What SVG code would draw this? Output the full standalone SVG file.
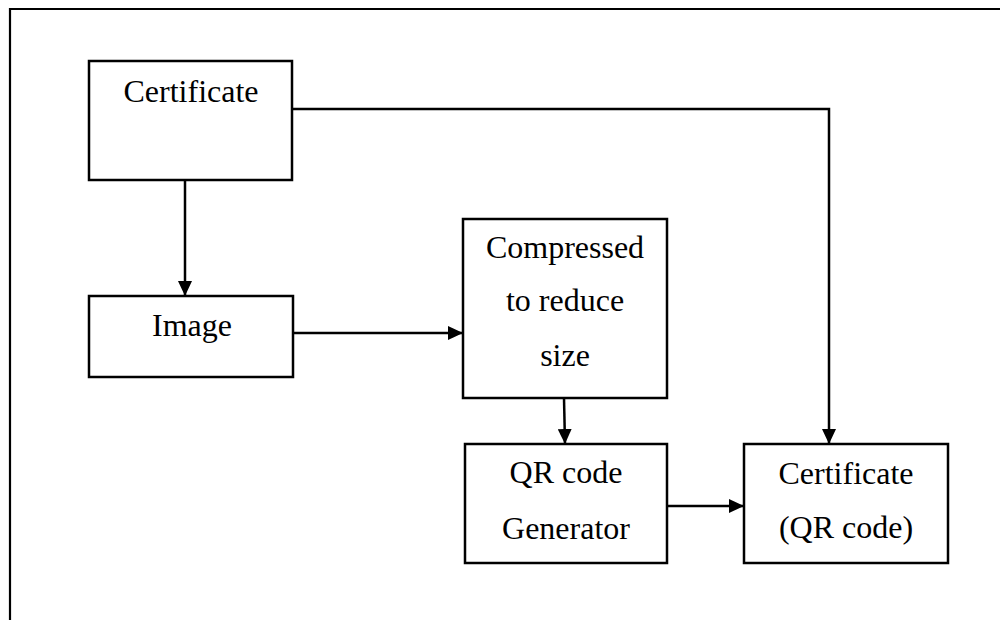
<svg xmlns="http://www.w3.org/2000/svg" width="1000" height="620" viewBox="0 0 1000 620">
  <style>
    .box { fill: #ffffff; stroke: #000000; stroke-width: 2.5; }
    .lbl { font-family: "Liberation Serif", "Times New Roman", serif; font-size: 32px; fill: #000000; text-anchor: middle; }
    .wire { fill: none; stroke: #000000; stroke-width: 2.5; }
    .frame { fill: none; stroke: #000000; stroke-width: 2.2; }
  </style>
  <defs>
    <marker id="arrow" viewBox="0 0 15 14" refX="15" refY="7" markerWidth="15" markerHeight="14" markerUnits="userSpaceOnUse" orient="auto">
      <path d="M0,0 L15,7 L0,14 Z" fill="#000000"/>
    </marker>
  </defs>
  <rect width="1000" height="620" fill="#ffffff"/>

  <!-- open outer frame: top and left edges only -->
  <path class="frame" d="M10,620 L10,9 L1000,9"/>

  <g id="connectors">
    <path class="wire" d="M185,180 L185,296" marker-end="url(#arrow)"/>
    <path class="wire" d="M293,333 L463,333" marker-end="url(#arrow)"/>
    <path class="wire" d="M292,109 L829,109 L829,444" marker-end="url(#arrow)"/>
    <path class="wire" d="M564,398 L565,444" marker-end="url(#arrow)"/>
    <path class="wire" d="M667,506 L744,506" marker-end="url(#arrow)"/>
  </g>

  <g id="certificate">
    <rect class="box" x="89" y="61" width="203" height="119"/>
    <text class="lbl" x="191" y="102">Certificate</text>
  </g>

  <g id="image">
    <rect class="box" x="89" y="296" width="204" height="81"/>
    <text class="lbl" x="192" y="336">Image</text>
  </g>

  <g id="compressed">
    <rect class="box" x="463" y="219" width="204" height="179"/>
    <text class="lbl" x="565" y="258">Compressed</text>
    <text class="lbl" x="565" y="311">to reduce</text>
    <text class="lbl" x="565" y="366">size</text>
  </g>

  <g id="qr-generator">
    <rect class="box" x="465" y="444" width="202" height="119"/>
    <text class="lbl" x="566" y="483">QR code</text>
    <text class="lbl" x="566" y="539">Generator</text>
  </g>

  <g id="certificate-qr">
    <rect class="box" x="744" y="444" width="204" height="119"/>
    <text class="lbl" x="846" y="484">Certificate</text>
    <text class="lbl" x="846" y="538">(QR code)</text>
  </g>
</svg>
